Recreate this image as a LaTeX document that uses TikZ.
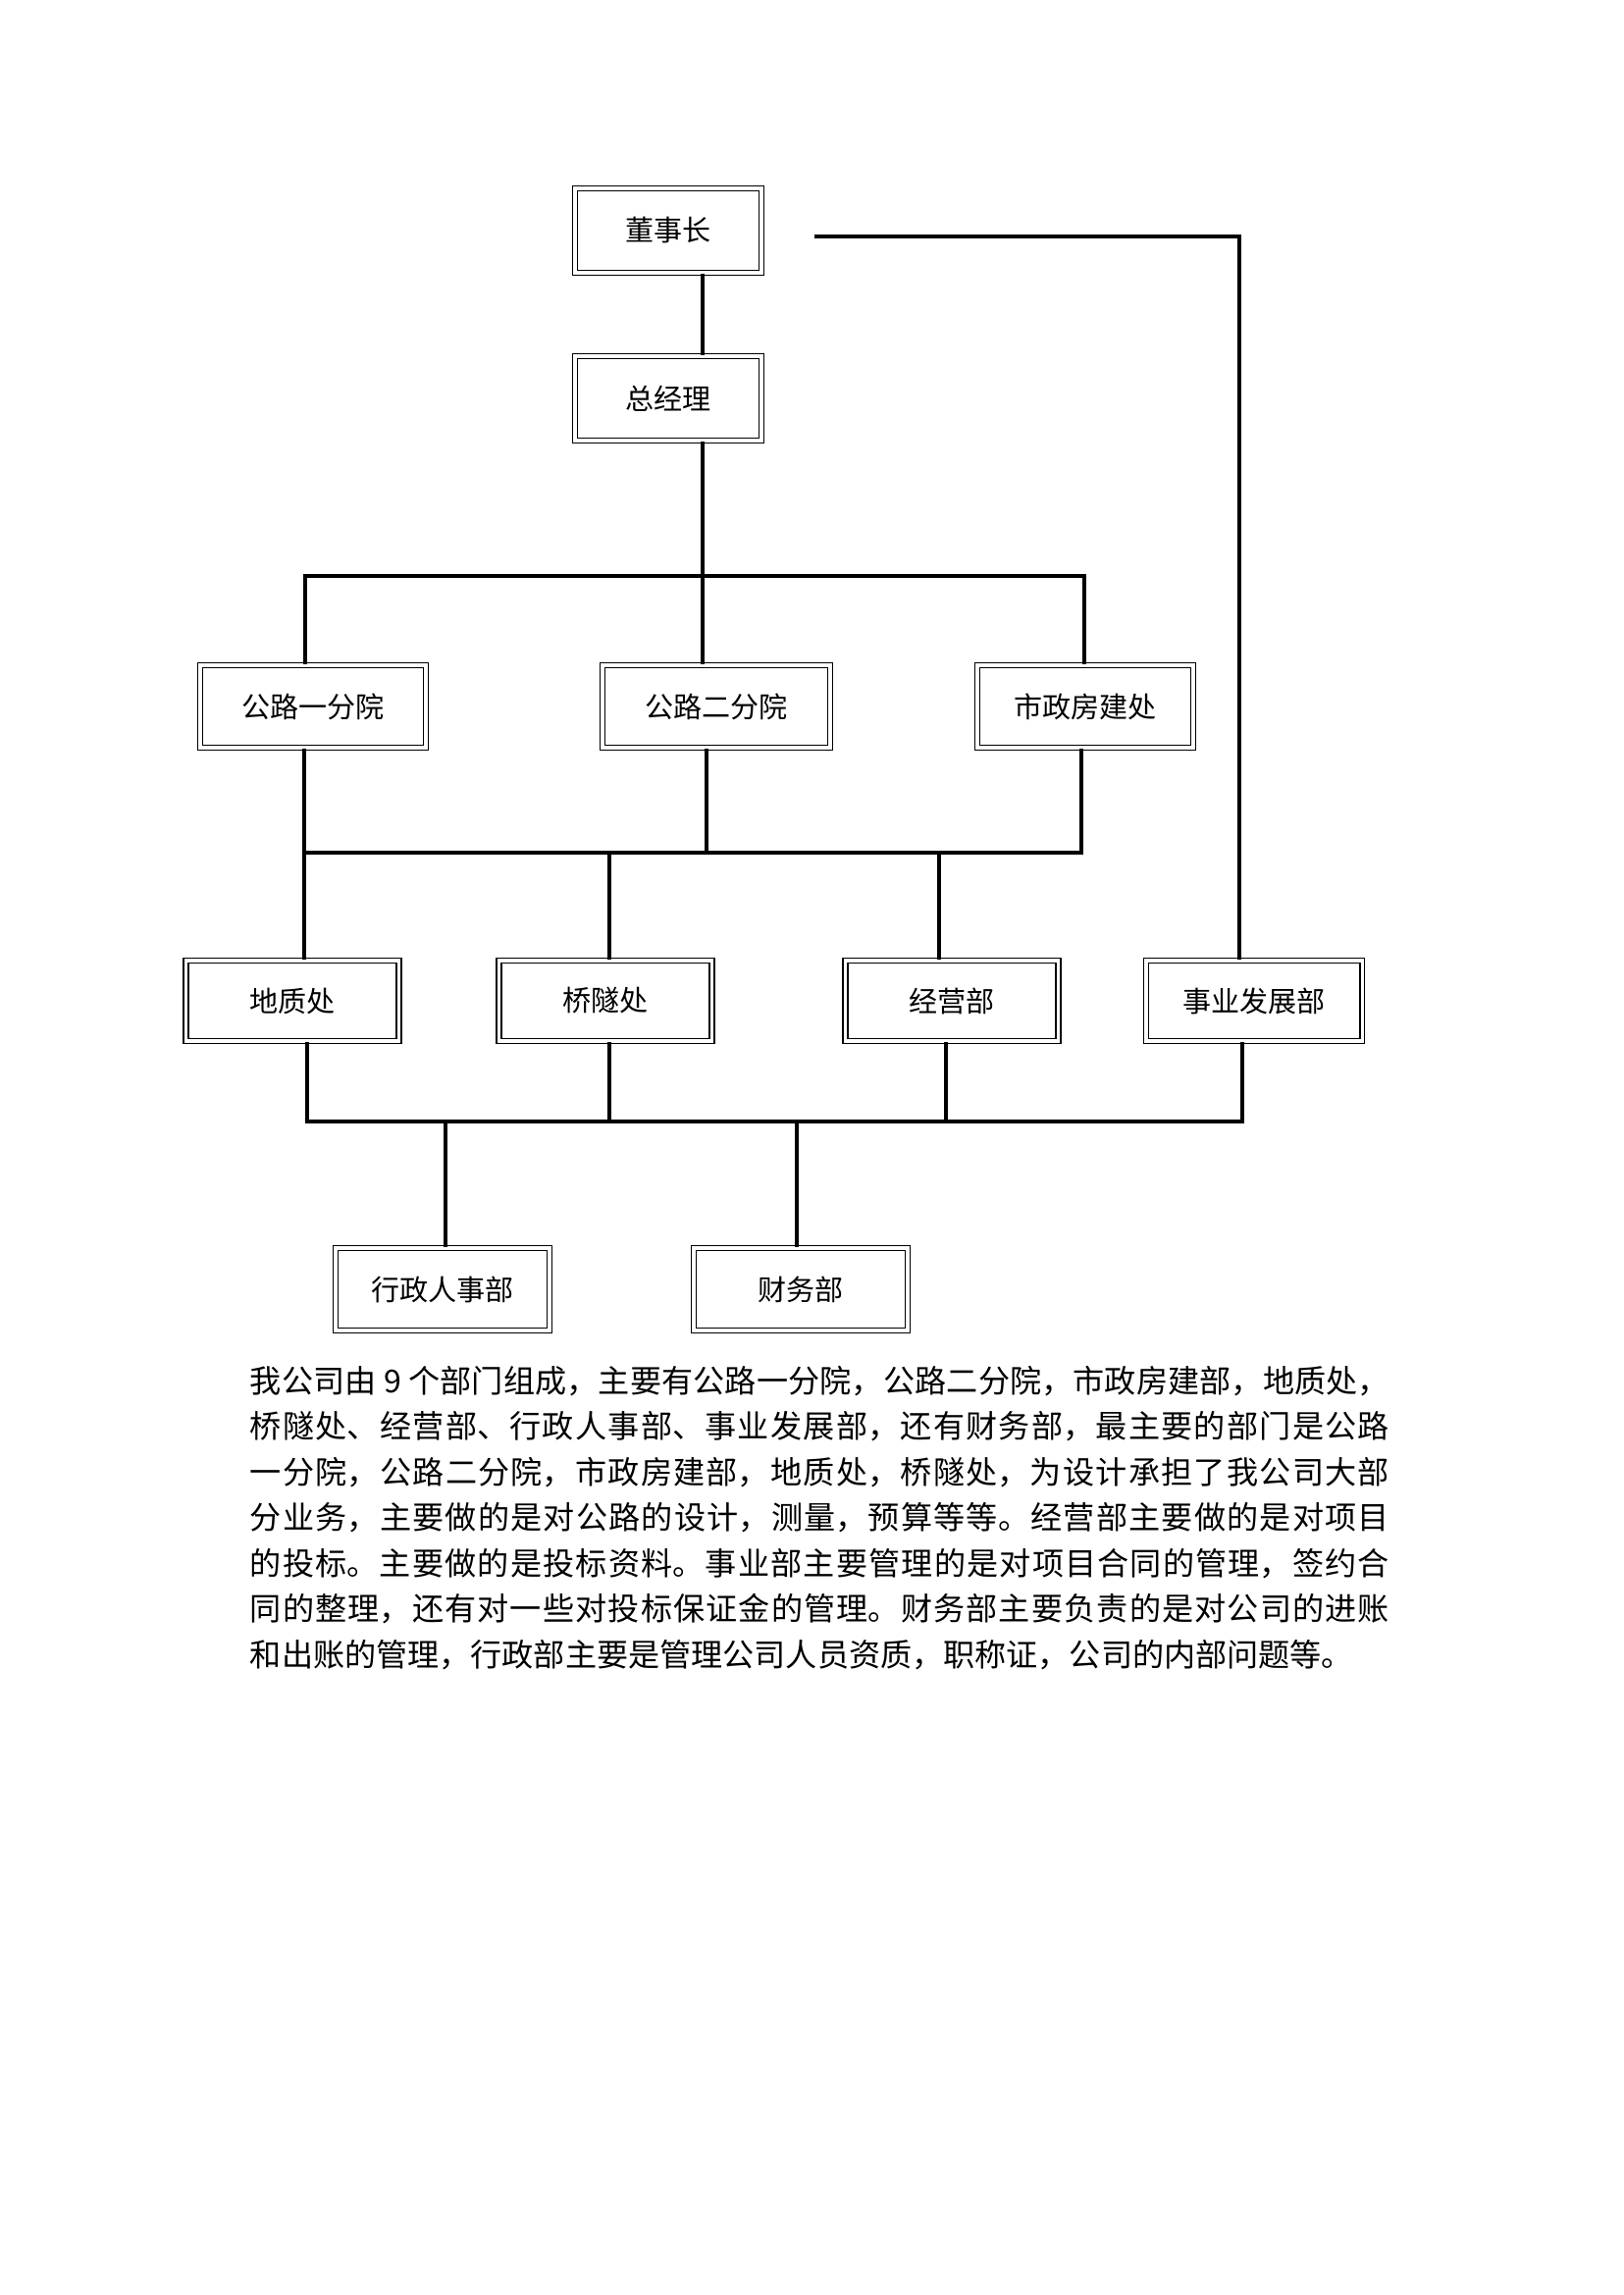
\documentclass[tikz,border=0pt]{standalone}
\usepackage{fontspec}
\setmainfont{Noto Sans CJK SC}
\XeTeXlinebreaklocale "zh"
\XeTeXlinebreakskip=0pt plus 2pt
\usepackage{tikz}

\begin{document}
\begin{tikzpicture}[x=0.012697cm,y=-0.012697cm,line width=1.4pt,
  dept/.style={draw,line width=0.7pt,double,double distance=1.1pt,inner sep=0pt,font=\fontsize{10.5}{12}\selectfont}]
\useasboundingbox (0,0) rectangle (1654,2339);
% top
\node[dept,minimum width=190*0.012697cm,minimum height=86*0.012697cm] (dsz) at (681,235) {董事长};
\node[dept,minimum width=190*0.012697cm,minimum height=86*0.012697cm] (zjl) at (681,406) {总经理};
% first row
\node[dept,minimum width=230*0.012697cm,minimum height=84*0.012697cm] (gl1) at (319,720) {公路一分院};
\node[dept,minimum width=232*0.012697cm,minimum height=84*0.012697cm] (gl2) at (730,720) {公路二分院};
\node[dept,minimum width=220*0.012697cm,minimum height=84*0.012697cm] (szf) at (1106,720) {市政房建处};
% second row
\node[dept,minimum width=217*0.012697cm,minimum height=82*0.012697cm] (dzc) at (298,1020) {地质处};
\node[dept,minimum width=217*0.012697cm,minimum height=82*0.012697cm] (qsc) at (617,1020) {桥隧处};
\node[dept,minimum width=217*0.012697cm,minimum height=82*0.012697cm] (jyb) at (970,1020) {经营部};
\node[dept,minimum width=220*0.012697cm,minimum height=82*0.012697cm] (syb) at (1278,1020) {事业发展部};
% third row
\node[dept,minimum width=218*0.012697cm,minimum height=84*0.012697cm] (xzb) at (451,1314) {行政人事部};
\node[dept,minimum width=218*0.012697cm,minimum height=84*0.012697cm] (cwb) at (816,1314) {财务部};
% junctions
\coordinate (j1) at (716,587);
\coordinate (j2) at (720,869);
\coordinate (j3) at (620,1143);
\coordinate (ds) at (830,241);
% connectors
\draw (dsz.south -| j1) -- (zjl.north -| j1);
\draw (zjl.south -| j1) -- (gl2.north -| j1);
\draw (gl1.north -| 311,0) -- (311,587) -- (1105,587) -- (szf.north -| 1105,0);
\draw (ds) -- (1263,241) -- (syb.north -| 1263,0);
\draw (gl1.south -| 310,0) -- (dzc.north -| 310,0);
\draw (gl2.south -| j2) -- (j2);
\draw (szf.south -| 1102,0) -- (1102,869) -- (310,869);
\draw (621,869) -- (qsc.north -| 621,0);
\draw (957,869) -- (jyb.north -| 957,0);
\draw (dzc.south -| 313,0) -- (313,1143) -- (1266,1143) -- (syb.south -| 1266,0);
\draw (qsc.south -| 621,0) -- (621,1143);
\draw (jyb.south -| 964,0) -- (964,1143);
\draw (454,1143) -- (xzb.north -| 454,0);
\draw (812,1143) -- (cwb.north -| 812,0);
% text
\node[anchor=north west,inner sep=0pt,text width=14.74cm,align=justify,
  font=\fontsize{11.6}{16.8}\selectfont] (txt) at (253,1390) {%
我公司由 9 个部门组成，主要有公路一分院，公路二分院，市政房建部，地质处，\linebreak
桥隧处、经营部、行政人事部、事业发展部，还有财务部，最主要的部门是公路\linebreak
一分院，公路二分院，市政房建部，地质处，桥隧处，为设计承担了我公司大部\linebreak
分业务，主要做的是对公路的设计，测量，预算等等。经营部主要做的是对项目\linebreak
的投标。主要做的是投标资料。事业部主要管理的是对项目合同的管理，签约合\linebreak
同的整理，还有对一些对投标保证金的管理。财务部主要负责的是对公司的进账\linebreak
和出账的管理，行政部主要是管理公司人员资质，职称证，公司的内部问题等。};
\end{tikzpicture}
\end{document}
